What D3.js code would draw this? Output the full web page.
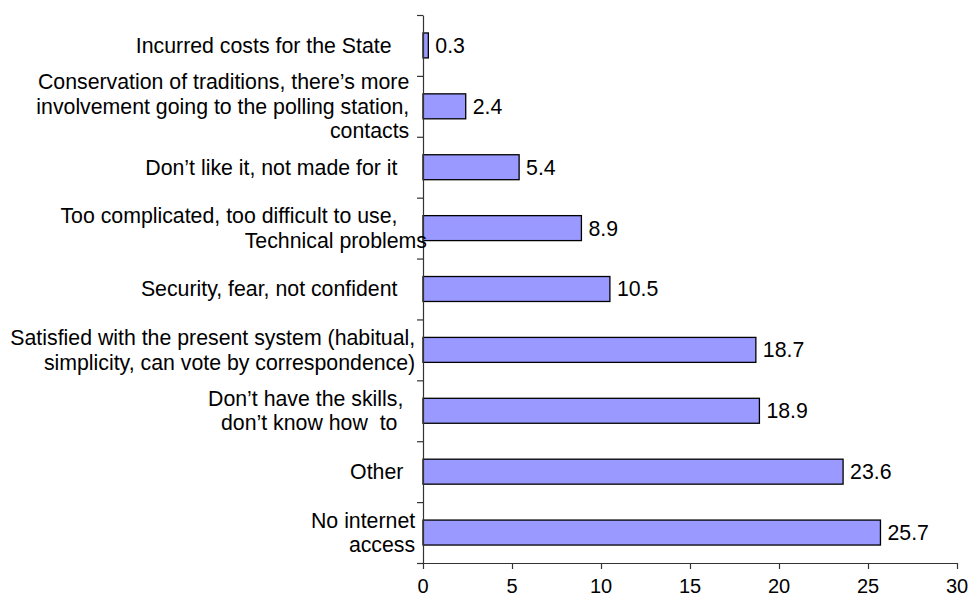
<!DOCTYPE html>
<html>
<head>
<meta charset="utf-8">
<script src="https://cdn.jsdelivr.net/npm/d3@7"></script>
<style>
  html, body { margin: 0; padding: 0; background: #fff; }
  svg { display: block; }
  text { font-family: "Liberation Sans", Arial, sans-serif; fill: #000; }
</style>
</head>
<body>
<svg id="chart" width="973" height="598"></svg>
<script>
// ---- data ----
const categories = [
  "Incurred costs for the State      ",
  "Conservation of traditions, there\u2019s more   \ninvolvement going to the polling station,   \ncontacts   ",
  "Don\u2019t like it, not made for it     ",
  "Too complicated, too difficult to use,     \nTechnical problems",
  "Security, fear, not confident     ",
  "Satisfied with the present system (habitual,  \nsimplicity, can vote by correspondence)  ",
  "Don\u2019t have the skills,    \ndon\u2019t know how  to     ",
  "Other    ",
  "No internet  \naccess  "
];
const values = [0.3, 2.4, 5.4, 8.9, 10.5, 18.7, 18.9, 23.6, 25.7];
const xTicks = [0, 5, 10, 15, 20, 25, 30];

// ---- layout ----
const svg = d3.select("#chart");
const plotL = 423, plotR = 957, plotT = 15, plotB = 563;
const fs = 21.3, tickFs = 20, lineH = 24.5;

const x = d3.scaleLinear().domain([0, 30]).range([plotL, plotR]);
const y = d3.scaleBand().domain(categories).range([plotT, plotB])
  .paddingInner(0.59).paddingOuter(0.295);
const yIdx = d3.scaleLinear().domain([0, categories.length]).range([plotT, plotB]);

// bars
svg.append("g").selectAll("rect")
  .data(values)
  .join("rect")
  .attr("x", x(0))
  .attr("y", (d, i) => y(categories[i]))
  .attr("width", d => x(d) - x(0))
  .attr("height", y.bandwidth())
  .attr("fill", "#9999ff")
  .attr("stroke", "#000")
  .attr("stroke-width", 1.3);

// x axis
const xAxis = svg.append("g")
  .attr("transform", `translate(0,${plotB})`)
  .call(d3.axisBottom(x).tickValues(xTicks).tickSize(6).tickSizeOuter(0).tickFormat(""));
xAxis.select(".domain").attr("stroke", "#333").attr("stroke-width", 1.2);
xAxis.selectAll(".tick line").attr("stroke", "#333").attr("stroke-width", 1.2);

svg.append("g").selectAll("text")
  .data(xTicks)
  .join("text")
  .attr("x", d => x(d))
  .attr("y", 593)
  .attr("text-anchor", "middle")
  .style("font-size", tickFs + "px")
  .text(d => d);

// y axis (ticks at category boundaries)
const yAxis = svg.append("g")
  .attr("transform", `translate(${plotL},0)`)
  .call(d3.axisLeft(yIdx).tickValues(d3.range(categories.length + 1)).tickSize(6).tickSizeOuter(0).tickFormat(""));
yAxis.select(".domain").attr("stroke", "#333").attr("stroke-width", 1.2);
yAxis.selectAll(".tick line").attr("stroke", "#333").attr("stroke-width", 1.2);

// category labels
const lab = svg.append("g").selectAll("text")
  .data(categories)
  .join("text")
  .attr("text-anchor", "end")
  .style("font-size", fs + "px")
  .style("white-space", "pre");
lab.each(function(d) {
  const lines = d.split("\n");
  const c = y(d) + y.bandwidth() / 2;
  const start = c - (lines.length - 1) * lineH / 2 + fs * 0.35;
  d3.select(this).selectAll("tspan")
    .data(lines)
    .join("tspan")
    .attr("x", 427)
    .attr("y", (l, j) => start + j * lineH)
    .text(l => l);
});

// value labels
svg.append("g").selectAll("text")
  .data(values)
  .join("text")
  .attr("x", d => x(d) + 7)
  .attr("y", (d, i) => y(categories[i]) + y.bandwidth() / 2 + fs * 0.35)
  .style("font-size", fs + "px")
  .text(d => d.toFixed(1));
</script>
</body>
</html>
